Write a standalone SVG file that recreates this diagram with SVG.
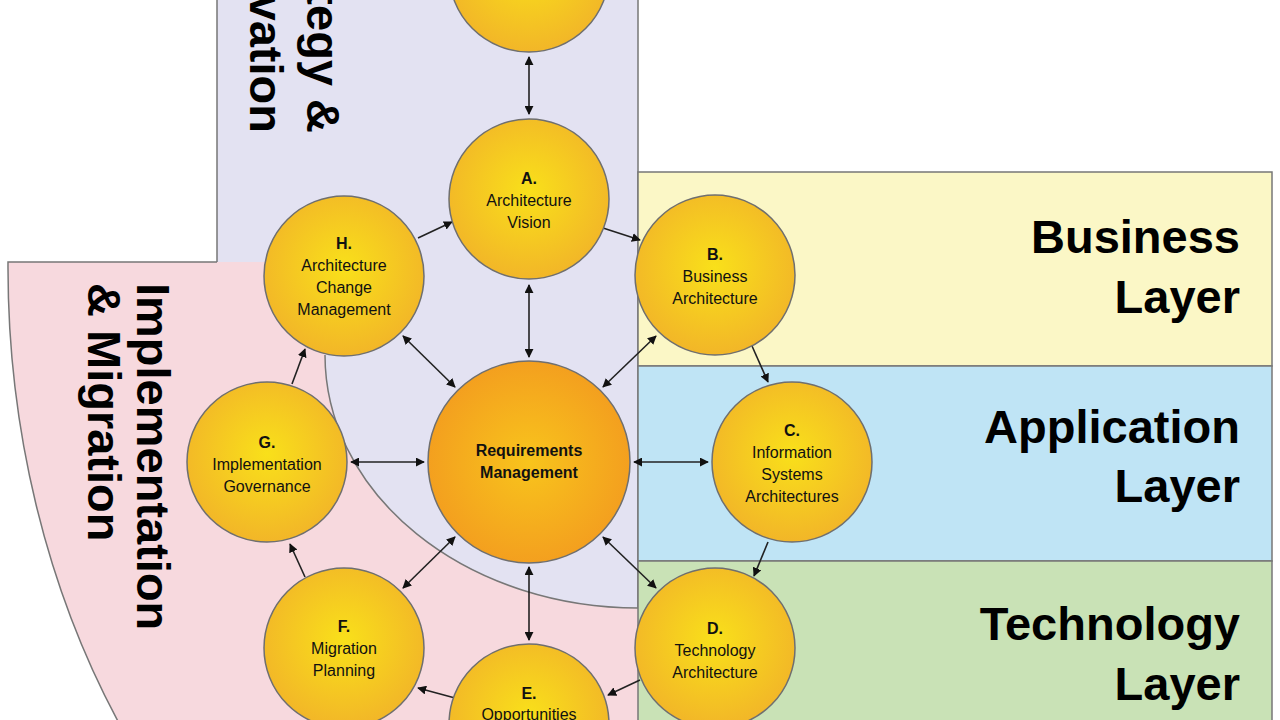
<svg xmlns="http://www.w3.org/2000/svg" width="1280" height="720" viewBox="0 0 1280 720">
<defs>
<radialGradient id="gy" cx="50%" cy="45%" r="55%"><stop offset="0" stop-color="#f9e01a"/><stop offset="1" stop-color="#f2b628"/></radialGradient>
<radialGradient id="go" cx="50%" cy="50%" r="55%"><stop offset="0" stop-color="#f8c41c"/><stop offset="1" stop-color="#f39c1f"/></radialGradient>
<marker id="ah" viewBox="0 0 10 10" refX="9" refY="5" markerWidth="9" markerHeight="9" markerUnits="userSpaceOnUse" orient="auto-start-reverse"><path d="M0,0 L10,5 L0,10 Z" fill="#111"/></marker>
</defs>
<style>
.n{stroke:#6f6f6f;stroke-width:1.5}
.t{font-family:"Liberation Sans",Arial,sans-serif;font-size:16px;fill:#111;text-anchor:middle}
.b{font-weight:bold}
.big{font-family:"Liberation Sans",Arial,sans-serif;font-size:47px;font-weight:bold;fill:#000}
.c line{stroke:#222;stroke-width:1.6;marker-end:url(#ah)}
.c .d{marker-start:url(#ah)}
.edge{fill:none;stroke:#777;stroke-width:1.5}
</style>
<rect width="1280" height="720" fill="#fff"/>
<g id="regions">
<rect x="217" y="-5" width="421" height="620" fill="#e3e2f2" stroke="#777" stroke-width="1.5"/>
<path d="M8,262 H638 V725 H120 A630,804 0 0 1 8,262 Z M325,262 V355 A313,253 0 0 0 638,608 V262 Z" fill="#f7d9de" fill-rule="evenodd"/>
<path class="edge" d="M217,262 H8 A630,804 0 0 0 120,725"/>
<path class="edge" d="M325,355 A313,253 0 0 0 638,608"/>
<rect x="638" y="172" width="634" height="194" fill="#fbf7c6" stroke="#777" stroke-width="1.5"/>
<rect x="638" y="366" width="634" height="195" fill="#bfe4f5" stroke="#777" stroke-width="1.5"/>
<rect x="638" y="561" width="634" height="165" fill="#c9e2b6" stroke="#777" stroke-width="1.5"/>
</g>
<g id="region-labels">
<text class="big" text-anchor="end" transform="translate(307,133) rotate(90)">Strategy &amp;</text>
<text class="big" text-anchor="end" transform="translate(250,133) rotate(90)">Motivation</text>
<text class="big" transform="translate(137,283) rotate(90)">Implementation</text>
<text class="big" transform="translate(88,283) rotate(90)">&amp; Migration</text>
<text class="big" text-anchor="end" x="1240" y="253">Business</text>
<text class="big" text-anchor="end" x="1240" y="313">Layer</text>
<text class="big" text-anchor="end" x="1240" y="443">Application</text>
<text class="big" text-anchor="end" x="1240" y="502">Layer</text>
<text class="big" text-anchor="end" x="1240" y="640">Technology</text>
<text class="big" text-anchor="end" x="1240" y="700">Layer</text>
</g>
<g id="connectors" class="c">
<line class="d" x1="529" y1="57" x2="529" y2="114"/>
<line class="d" x1="529" y1="285" x2="529" y2="357"/>
<line class="d" x1="403" y1="336" x2="455" y2="387"/>
<line class="d" x1="656" y1="336" x2="603" y2="387"/>
<line class="d" x1="351" y1="462" x2="424" y2="462"/>
<line class="d" x1="634" y1="462" x2="708" y2="462"/>
<line class="d" x1="403" y1="588" x2="455" y2="537"/>
<line class="d" x1="656" y1="588" x2="603" y2="537"/>
<line class="d" x1="529" y1="567" x2="529" y2="640"/>
<line x1="603" y1="228" x2="640" y2="240"/>
<line x1="418" y1="238" x2="452" y2="222"/>
<line x1="752" y1="346" x2="768" y2="382"/>
<line x1="768" y1="542" x2="754" y2="576"/>
<line x1="640" y1="680" x2="608" y2="695"/>
<line x1="455" y1="698" x2="418" y2="688"/>
<line x1="305" y1="577" x2="290" y2="544"/>
<line x1="292" y1="384" x2="305" y2="349"/>
</g>
<g id="node-top"><circle class="n" cx="529" cy="-28" r="80" fill="url(#gy)"/></g>
<g id="node-A"><circle class="n" cx="529" cy="199" r="80" fill="url(#gy)"/>
<text class="t b" x="529" y="184">A.</text><text class="t" x="529" y="206">Architecture</text><text class="t" x="529" y="228">Vision</text></g>
<g id="node-B"><circle class="n" cx="715" cy="275" r="80" fill="url(#gy)"/>
<text class="t b" x="715" y="260">B.</text><text class="t" x="715" y="282">Business</text><text class="t" x="715" y="304">Architecture</text></g>
<g id="node-C"><circle class="n" cx="792" cy="462" r="80" fill="url(#gy)"/>
<text class="t b" x="792" y="436">C.</text><text class="t" x="792" y="458">Information</text><text class="t" x="792" y="480">Systems</text><text class="t" x="792" y="502">Architectures</text></g>
<g id="node-D"><circle class="n" cx="715" cy="648" r="80" fill="url(#gy)"/>
<text class="t b" x="715" y="634">D.</text><text class="t" x="715" y="656">Technology</text><text class="t" x="715" y="678">Architecture</text></g>
<g id="node-E"><circle class="n" cx="529" cy="724" r="80" fill="url(#gy)"/>
<text class="t b" x="529" y="699">E.</text><text class="t" x="529" y="720">Opportunities</text></g>
<g id="node-F"><circle class="n" cx="344" cy="648" r="80" fill="url(#gy)"/>
<text class="t b" x="344" y="632">F.</text><text class="t" x="344" y="654">Migration</text><text class="t" x="344" y="676">Planning</text></g>
<g id="node-G"><circle class="n" cx="267" cy="462" r="80" fill="url(#gy)"/>
<text class="t b" x="267" y="448">G.</text><text class="t" x="267" y="470">Implementation</text><text class="t" x="267" y="492">Governance</text></g>
<g id="node-H"><circle class="n" cx="344" cy="276" r="80" fill="url(#gy)"/>
<text class="t b" x="344" y="249">H.</text><text class="t" x="344" y="271">Architecture</text><text class="t" x="344" y="293">Change</text><text class="t" x="344" y="315">Management</text></g>
<g id="node-RM"><circle class="n" cx="529" cy="462" r="101" fill="url(#go)"/>
<text class="t b" x="529" y="456">Requirements</text><text class="t b" x="529" y="478">Management</text></g>
</svg>
